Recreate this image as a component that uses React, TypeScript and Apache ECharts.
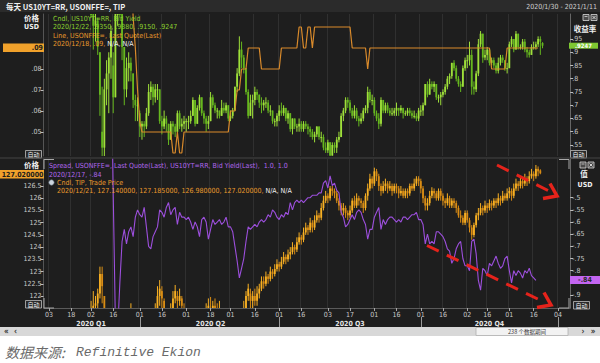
import React, { useEffect, useRef } from 'react';
import * as echarts from 'echarts';

// ---------- categories (trading days) ----------
const rangeStart = '2020-01-30';
const rangeEnd = '2021-01-11';
const marketHolidays = ['2020-02-17', '2020-04-10', '2020-05-25', '2020-07-03', '2020-09-07', '2020-10-12', '2020-11-11', '2020-11-26', '2020-12-25', '2021-01-01'];

function buildTradingDays(): string[] {
  const out: string[] = [];
  const [sy, sm, sd] = rangeStart.split('-').map(Number);
  const [ey, em, ed] = rangeEnd.split('-').map(Number);
  let t = Date.UTC(sy, sm - 1, sd);
  const end = Date.UTC(ey, em - 1, ed);
  while (t <= end) {
    const d = new Date(t);
    const wd = d.getUTCDay();
    const s = d.toISOString().slice(0, 10);
    if (wd !== 0 && wd !== 6 && !marketHolidays.includes(s)) out.push(s);
    t += 86400000;
  }
  return out;
}
const dates = buildTradingDays();

const tickDates = ['2020-02-03', '2020-02-18', '2020-03-02', '2020-03-16', '2020-04-01', '2020-04-16', '2020-05-01', '2020-05-18', '2020-06-01', '2020-06-16', '2020-07-01', '2020-07-16', '2020-08-03', '2020-08-17', '2020-09-01', '2020-09-16', '2020-10-01', '2020-10-16', '2020-11-02', '2020-11-16', '2020-12-01', '2020-12-16', '2021-01-04'];
const quarterStarts = ['2020-04-01', '2020-07-01', '2020-10-01', '2021-01-04'];
const quarterLabelDates = ['2020-03-02', '2020-05-18', '2020-08-17', '2020-11-17'];
const quarterLabels = ['2020 Q1', '2020 Q2', '2020 Q3', '2020 Q4'];

// ---------- tick values ----------
const leftTopTicks = [0.05, 0.06, 0.07, 0.08];
const rightTopTicks = [0.55, 0.6, 0.65, 0.7, 0.75, 0.8, 0.85, 0.9, 0.95];
const leftBottomTicks = [122, 122.5, 123, 123.5, 124, 124.5, 125, 125.5, 126, 126.5];
const rightBottomTicks = [-0.9, -0.85, -0.8, -0.75, -0.7, -0.65, -0.6, -0.55, -0.5];
const rightBottomLabels = [-0.9, -0.8, -0.75, -0.7, -0.65, -0.6, -0.55, -0.5];

// ---------- USONFFE= last quote (from 2020-01-30) ----------
const ffQuote = [
  1.59, 1.60, 1.59, 1.58, 1.58, 1.59, 1.59, 1.58, 1.58, 1.58,
  1.58, 1.58, 1.58, 1.58, 1.58, 1.58, 1.58, 1.58, 1.59, 1.59,
  1.58, 1.58, 1.58, 1.10, 1.10, 1.10, 1.10, 1.10, 1.10, 1.10,
  1.10, 0.25, 0.25, 0.20, 0.15, 0.13, 0.13, 0.13, 0.13, 0.13,
  0.105, 0.09, 0.07, 0.055, 0.05, 0.05, 0.05, 0.05, 0.05, 0.05,
  0.05, 0.05, 0.05, 0.05, 0.05, 0.05, 0.05, 0.05, 0.04, 0.04,
  0.05, 0.04, 0.04, 0.05, 0.05, 0.05, 0.05, 0.05, 0.05, 0.05,
  0.05, 0.05, 0.05, 0.05, 0.05, 0.05, 0.05, 0.05, 0.05, 0.05,
  0.05, 0.05, 0.05, 0.05, 0.06, 0.06, 0.06, 0.07, 0.07, 0.08,
  0.08, 0.08, 0.09, 0.09, 0.09, 0.09, 0.09, 0.09, 0.08, 0.08,
  0.08, 0.08, 0.08, 0.08, 0.08, 0.08, 0.08, 0.09, 0.09, 0.09,
  0.09, 0.09, 0.09, 0.09, 0.09, 0.10, 0.10, 0.09, 0.09, 0.10,
  0.10, 0.09, 0.10, 0.10, 0.10, 0.10, 0.10, 0.10, 0.10, 0.10,
  0.10, 0.10, 0.10, 0.10, 0.10, 0.10, 0.10, 0.10, 0.10, 0.09,
  0.09, 0.09, 0.09, 0.09, 0.09, 0.09, 0.08, 0.09, 0.09, 0.09,
  0.09, 0.09, 0.09, 0.09, 0.09, 0.09, 0.09, 0.09, 0.09, 0.09,
  0.09, 0.09, 0.09, 0.09, 0.09, 0.09, 0.09, 0.09, 0.09, 0.09,
  0.09, 0.09, 0.09, 0.09, 0.09, 0.09, 0.09, 0.09, 0.09, 0.09,
  0.09, 0.09, 0.09, 0.09, 0.09, 0.09, 0.09, 0.09, 0.09, 0.09,
  0.09, 0.09, 0.09, 0.09, 0.09, 0.09, 0.09, 0.09, 0.09, 0.09,
  0.09, 0.09, 0.08, 0.08, 0.08, 0.08, 0.08, 0.08, 0.08, 0.09,
  0.09, 0.09, 0.09, 0.09, 0.09, 0.09, 0.09, 0.09, 0.09, 0.09,
  0.09, 0.09, 0.09, 0.09,
];

// ---------- US10YT=RR bid yield [open, close, low, high] ----------
const yieldOHLC = [
  [1.59, 1.58, 1.53, 1.61], [1.58, 1.51, 1.50, 1.59], [1.51, 1.52, 1.50, 1.55], [1.53, 1.60, 1.53, 1.61], [1.60, 1.65, 1.60, 1.67],
  [1.65, 1.64, 1.62, 1.67], [1.64, 1.58, 1.57, 1.65], [1.58, 1.56, 1.54, 1.59], [1.56, 1.59, 1.56, 1.62], [1.59, 1.62, 1.58, 1.64],
  [1.62, 1.61, 1.59, 1.63], [1.61, 1.59, 1.58, 1.62], [1.58, 1.56, 1.54, 1.59], [1.56, 1.56, 1.55, 1.58], [1.56, 1.52, 1.50, 1.57],
  [1.52, 1.47, 1.46, 1.53], [1.42, 1.38, 1.35, 1.43], [1.38, 1.33, 1.31, 1.39], [1.33, 1.33, 1.30, 1.35], [1.33, 1.30, 1.25, 1.34],
  [1.26, 1.15, 1.12, 1.28], [1.13, 1.09, 1.03, 1.17], [1.09, 1.00, 0.91, 1.11], [1.00, 1.02, 0.94, 1.05], [1.02, 0.92, 0.89, 1.03],
  [0.90, 0.74, 0.66, 0.90], [0.60, 0.54, 0.31, 0.77], [0.54, 0.76, 0.50, 0.80], [0.76, 0.82, 0.70, 0.87], [0.82, 0.88, 0.67, 0.90],
  [0.88, 0.98, 0.80, 1.00], [0.85, 0.73, 0.67, 0.90], [0.73, 1.08, 0.73, 1.10], [1.08, 1.18, 1.00, 1.27], [1.18, 1.12, 1.03, 1.26],
  [1.12, 0.92, 0.87, 1.16], [0.92, 0.76, 0.70, 0.92], [0.76, 0.84, 0.73, 0.88], [0.84, 0.86, 0.79, 0.90], [0.86, 0.83, 0.79, 0.88],
  [0.82, 0.72, 0.69, 0.82], [0.72, 0.70, 0.64, 0.74], [0.70, 0.70, 0.64, 0.73], [0.67, 0.62, 0.58, 0.68], [0.62, 0.63, 0.57, 0.64],
  [0.63, 0.62, 0.58, 0.64], [0.62, 0.67, 0.61, 0.69], [0.67, 0.75, 0.66, 0.78], [0.75, 0.77, 0.72, 0.79], [0.77, 0.73, 0.70, 0.78],
  [0.73, 0.76, 0.71, 0.78], [0.76, 0.76, 0.72, 0.78], [0.76, 0.64, 0.63, 0.76], [0.64, 0.62, 0.59, 0.66], [0.62, 0.65, 0.61, 0.68],
  [0.65, 0.63, 0.60, 0.66], [0.63, 0.57, 0.55, 0.63], [0.57, 0.63, 0.57, 0.64], [0.63, 0.62, 0.59, 0.64], [0.62, 0.60, 0.58, 0.63],
  [0.60, 0.67, 0.60, 0.68], [0.67, 0.62, 0.61, 0.68], [0.62, 0.63, 0.60, 0.65], [0.63, 0.64, 0.61, 0.66], [0.64, 0.64, 0.60, 0.65],
  [0.64, 0.64, 0.61, 0.66], [0.64, 0.66, 0.63, 0.68], [0.66, 0.72, 0.66, 0.73], [0.72, 0.63, 0.62, 0.72], [0.63, 0.69, 0.63, 0.70],
  [0.69, 0.73, 0.68, 0.74], [0.73, 0.67, 0.66, 0.73], [0.67, 0.65, 0.63, 0.68], [0.65, 0.63, 0.60, 0.66], [0.63, 0.64, 0.61, 0.66],
  [0.64, 0.73, 0.64, 0.75], [0.73, 0.70, 0.69, 0.74], [0.70, 0.68, 0.67, 0.71], [0.68, 0.68, 0.65, 0.69], [0.68, 0.66, 0.65, 0.68],
  [0.66, 0.69, 0.66, 0.72], [0.69, 0.68, 0.67, 0.71], [0.68, 0.70, 0.67, 0.71], [0.70, 0.65, 0.64, 0.70], [0.65, 0.66, 0.64, 0.68],
  [0.66, 0.68, 0.65, 0.69], [0.68, 0.77, 0.68, 0.77], [0.77, 0.82, 0.75, 0.84], [0.82, 0.91, 0.81, 0.96], [0.91, 0.88, 0.84, 0.94],
  [0.88, 0.84, 0.82, 0.89], [0.84, 0.75, 0.74, 0.84], [0.75, 0.66, 0.65, 0.76], [0.66, 0.71, 0.66, 0.74], [0.71, 0.72, 0.65, 0.74],
  [0.72, 0.75, 0.70, 0.77], [0.75, 0.74, 0.72, 0.76], [0.74, 0.71, 0.69, 0.74], [0.71, 0.70, 0.67, 0.73], [0.70, 0.71, 0.68, 0.72],
  [0.71, 0.71, 0.69, 0.73], [0.71, 0.68, 0.67, 0.72], [0.68, 0.68, 0.66, 0.70], [0.68, 0.64, 0.63, 0.68], [0.64, 0.64, 0.62, 0.65],
  [0.64, 0.66, 0.62, 0.67], [0.66, 0.68, 0.64, 0.70], [0.68, 0.67, 0.66, 0.71], [0.67, 0.69, 0.66, 0.70], [0.69, 0.65, 0.64, 0.69],
  [0.65, 0.67, 0.63, 0.68], [0.67, 0.61, 0.60, 0.67], [0.61, 0.65, 0.59, 0.65], [0.65, 0.62, 0.61, 0.65], [0.62, 0.62, 0.60, 0.63],
  [0.62, 0.63, 0.60, 0.65], [0.63, 0.61, 0.60, 0.64], [0.61, 0.63, 0.60, 0.64], [0.63, 0.62, 0.61, 0.64], [0.62, 0.61, 0.59, 0.63],
  [0.61, 0.60, 0.58, 0.62], [0.60, 0.58, 0.57, 0.61], [0.58, 0.59, 0.56, 0.60], [0.59, 0.62, 0.58, 0.62], [0.62, 0.58, 0.57, 0.62],
  [0.58, 0.58, 0.56, 0.60], [0.58, 0.54, 0.53, 0.59], [0.54, 0.53, 0.52, 0.56], [0.53, 0.56, 0.52, 0.57], [0.56, 0.51, 0.50, 0.56],
  [0.51, 0.55, 0.51, 0.56], [0.55, 0.54, 0.52, 0.56], [0.54, 0.57, 0.52, 0.58], [0.57, 0.58, 0.56, 0.60], [0.58, 0.66, 0.58, 0.67],
  [0.66, 0.68, 0.64, 0.69], [0.68, 0.72, 0.67, 0.73], [0.72, 0.71, 0.69, 0.73], [0.71, 0.68, 0.67, 0.72], [0.68, 0.66, 0.65, 0.69],
  [0.66, 0.68, 0.65, 0.70], [0.68, 0.65, 0.64, 0.69], [0.65, 0.64, 0.62, 0.66], [0.64, 0.65, 0.63, 0.67], [0.65, 0.68, 0.64, 0.69],
  [0.68, 0.69, 0.67, 0.70], [0.69, 0.75, 0.67, 0.77], [0.75, 0.72, 0.71, 0.76], [0.72, 0.72, 0.70, 0.74], [0.72, 0.67, 0.66, 0.73],
  [0.67, 0.65, 0.64, 0.68], [0.65, 0.63, 0.61, 0.67], [0.63, 0.72, 0.62, 0.73], [0.72, 0.68, 0.67, 0.72], [0.68, 0.70, 0.67, 0.71],
  [0.70, 0.68, 0.67, 0.71], [0.68, 0.67, 0.66, 0.69], [0.67, 0.67, 0.66, 0.69], [0.67, 0.68, 0.66, 0.69], [0.68, 0.69, 0.66, 0.71],
  [0.69, 0.68, 0.66, 0.69], [0.68, 0.69, 0.67, 0.70], [0.69, 0.67, 0.65, 0.69], [0.67, 0.67, 0.66, 0.68], [0.67, 0.68, 0.66, 0.69],
  [0.68, 0.67, 0.66, 0.69], [0.67, 0.66, 0.65, 0.68], [0.66, 0.66, 0.65, 0.68], [0.66, 0.65, 0.64, 0.67], [0.65, 0.68, 0.64, 0.69],
  [0.68, 0.68, 0.66, 0.70], [0.68, 0.70, 0.66, 0.71], [0.70, 0.78, 0.70, 0.78], [0.78, 0.74, 0.73, 0.79], [0.74, 0.78, 0.74, 0.80],
  [0.78, 0.77, 0.76, 0.79], [0.77, 0.78, 0.75, 0.79], [0.78, 0.73, 0.72, 0.78], [0.73, 0.73, 0.71, 0.74], [0.73, 0.74, 0.70, 0.75],
  [0.74, 0.75, 0.73, 0.76], [0.75, 0.77, 0.74, 0.78], [0.77, 0.80, 0.76, 0.81], [0.80, 0.81, 0.78, 0.82], [0.81, 0.86, 0.80, 0.86],
  [0.86, 0.84, 0.83, 0.87], [0.84, 0.80, 0.79, 0.85], [0.80, 0.78, 0.77, 0.81], [0.78, 0.77, 0.75, 0.79], [0.77, 0.84, 0.77, 0.85],
  [0.84, 0.87, 0.83, 0.88], [0.87, 0.87, 0.84, 0.89], [0.87, 0.89, 0.85, 0.94], [0.89, 0.77, 0.74, 0.91], [0.77, 0.76, 0.74, 0.79],
  [0.76, 0.82, 0.75, 0.83], [0.82, 0.93, 0.81, 0.95], [0.93, 0.97, 0.92, 0.98], [0.97, 0.88, 0.86, 0.97], [0.88, 0.89, 0.87, 0.91],
  [0.89, 0.91, 0.87, 0.92], [0.91, 0.86, 0.85, 0.91], [0.86, 0.87, 0.85, 0.88], [0.87, 0.85, 0.84, 0.88], [0.85, 0.83, 0.82, 0.86],
  [0.83, 0.86, 0.82, 0.88], [0.86, 0.88, 0.85, 0.89], [0.88, 0.87, 0.86, 0.89], [0.87, 0.84, 0.83, 0.87], [0.84, 0.84, 0.82, 0.86],
  [0.84, 0.93, 0.84, 0.94], [0.93, 0.95, 0.92, 0.96], [0.95, 0.91, 0.90, 0.95], [0.91, 0.97, 0.91, 0.98], [0.97, 0.92, 0.91, 0.97],
  [0.92, 0.92, 0.91, 0.93], [0.92, 0.94, 0.91, 0.95], [0.94, 0.91, 0.90, 0.95], [0.91, 0.90, 0.88, 0.92], [0.90, 0.89, 0.88, 0.91],
  [0.89, 0.92, 0.89, 0.93], [0.92, 0.92, 0.91, 0.94], [0.92, 0.93, 0.91, 0.94], [0.93, 0.95, 0.92, 0.96], [0.95, 0.94, 0.89, 0.96],
  [0.935, 0.9247, 0.915, 0.938],
];

// ---------- TIP trade price [open, close, low, high] ----------
const tipOHLC = [
  [117.4, 117.6, 117.2, 117.8], [117.6, 117.9, 117.4, 118.0], [117.9, 117.8, 117.6, 118.0], [117.8, 117.5, 117.4, 117.9], [117.5, 117.3, 117.1, 117.6],
  [117.3, 117.4, 117.2, 117.6], [117.4, 117.6, 117.3, 117.8], [117.6, 117.8, 117.5, 117.9], [117.8, 117.7, 117.5, 117.9], [117.7, 117.6, 117.4, 117.8],
  [117.6, 117.7, 117.5, 117.9], [117.7, 117.9, 117.6, 118.0], [117.9, 118.1, 117.8, 118.3], [118.1, 118.0, 117.9, 118.2], [118.0, 118.2, 117.9, 118.4],
  [118.2, 118.5, 118.1, 118.6], [118.6, 118.9, 118.4, 119.1], [118.9, 119.1, 118.7, 119.3], [119.1, 119.2, 118.9, 119.4], [119.2, 119.4, 119.0, 119.6],
  [119.5, 119.3, 118.8, 119.8], [119.6, 121.2, 119.5, 121.8], [121.2, 121.6, 120.8, 122.2], [121.6, 121.7, 121.2, 122.0], [121.7, 122.1, 121.4, 122.3],
  [122.1, 122.9, 121.9, 123.2], [122.9, 122.4, 121.7, 123.2], [122.0, 121.2, 120.7, 121.8], [121.0, 120.3, 119.8, 121.2], [119.5, 117.5, 117.0, 120.0],
  [117.8, 116.6, 115.8, 118.3], [116.0, 114.7, 113.5, 116.8], [114.0, 111.8, 111.2, 114.5], [111.0, 109.5, 108.5, 112.0], [109.5, 110.8, 106.8, 111.2],
  [111.5, 113.0, 110.5, 113.8], [113.5, 115.2, 112.8, 115.8], [116.0, 117.5, 115.6, 118.2], [117.8, 119.5, 117.4, 120.3], [119.8, 120.9, 119.5, 121.7],
  [120.6, 120.4, 119.9, 121.0], [120.4, 120.8, 119.8, 121.2], [120.8, 120.3, 119.9, 121.1], [120.3, 120.5, 119.8, 120.9], [120.5, 120.6, 120.0, 121.0],
  [120.6, 120.2, 119.9, 120.8], [120.2, 120.0, 119.6, 120.5], [120.0, 119.8, 119.5, 120.4], [119.8, 120.2, 119.6, 120.6], [120.2, 121.0, 120.1, 121.3],
  [121.0, 121.3, 120.7, 121.7], [121.3, 122.0, 121.2, 122.4], [122.0, 122.3, 121.6, 122.65], [122.2, 121.9, 121.5, 122.4], [121.8, 121.3, 121.0, 121.9],
  [121.2, 121.0, 120.7, 121.4], [121.0, 121.2, 120.6, 121.5], [121.2, 121.4, 121.0, 121.7], [121.5, 121.9, 121.3, 122.2], [121.9, 122.2, 121.7, 122.45],
  [122.0, 121.8, 121.5, 122.2], [121.8, 122.0, 121.6, 122.3], [121.9, 121.6, 121.3, 122.0], [121.5, 121.2, 120.9, 121.7], [121.2, 120.9, 120.6, 121.3],
  [120.9, 121.0, 120.6, 121.3], [121.0, 121.1, 120.8, 121.4], [121.1, 120.7, 120.5, 121.2], [120.7, 121.0, 120.5, 121.3], [121.0, 120.8, 120.5, 121.2],
  [120.8, 120.6, 120.3, 121.0], [120.6, 120.9, 120.5, 121.2], [120.9, 121.1, 120.7, 121.4], [121.1, 121.4, 120.9, 121.7], [121.4, 121.6, 121.1, 121.9],
  [121.5, 121.3, 121.0, 121.96], [121.3, 121.6, 121.1, 121.8], [121.6, 121.5, 121.2, 121.9], [121.5, 121.3, 121.0, 121.7], [121.3, 121.5, 121.1, 121.8],
  [121.4, 121.1, 120.9, 121.5], [121.1, 120.9, 120.6, 121.3], [120.9, 121.1, 120.7, 121.4], [121.1, 121.3, 120.9, 121.5], [121.3, 121.2, 120.9, 121.4],
  [121.2, 121.0, 120.7, 121.3], [121.0, 120.7, 120.4, 121.1], [120.7, 120.5, 120.2, 120.8], [120.5, 120.4, 120.0, 120.7], [120.6, 121.0, 120.4, 121.2],
  [121.0, 121.5, 120.9, 121.8], [121.5, 122.0, 121.4, 122.2], [122.0, 122.3, 121.8, 122.5], [122.1, 121.8, 121.5, 122.3], [121.8, 122.0, 121.4, 122.2],
  [122.0, 121.8, 121.6, 122.3], [121.8, 122.1, 121.6, 122.4], [122.1, 122.3, 121.9, 122.5], [122.3, 122.6, 122.2, 122.8], [122.6, 122.5, 122.3, 122.8],
  [122.5, 122.8, 122.4, 123.0], [122.8, 122.7, 122.5, 122.9], [122.7, 123.0, 122.6, 123.2], [123.0, 122.9, 122.7, 123.1], [122.9, 123.1, 122.8, 123.3],
  [123.1, 123.3, 123.0, 123.5], [123.3, 123.2, 123.0, 123.4], [123.2, 123.4, 123.1, 123.6], [123.4, 123.6, 123.3, 123.8], [123.6, 123.5, 123.3, 123.7],
  [123.5, 123.7, 123.4, 123.9], [123.7, 123.8, 123.5, 124.0], [123.8, 124.0, 123.7, 124.2], [124.0, 123.9, 123.7, 124.1], [123.9, 124.2, 123.8, 124.4],
  [124.2, 124.4, 124.1, 124.6], [124.4, 124.3, 124.1, 124.5], [124.3, 124.6, 124.2, 124.8], [124.6, 124.8, 124.5, 125.0], [124.8, 124.7, 124.5, 124.9],
  [124.7, 125.0, 124.6, 125.2], [125.0, 124.8, 124.6, 125.1], [124.8, 125.1, 124.7, 125.3], [125.1, 125.3, 125.0, 125.5], [125.3, 125.2, 125.0, 125.4],
  [125.2, 125.6, 125.1, 125.8], [125.6, 125.9, 125.5, 126.1], [125.9, 126.1, 125.8, 126.3], [126.1, 126.0, 125.8, 126.2], [126.0, 126.4, 125.9, 126.5],
  [126.4, 126.3, 126.1, 126.5], [126.3, 126.2, 126.0, 126.4], [126.2, 125.9, 125.8, 126.3], [125.9, 125.7, 125.5, 126.0], [125.7, 125.5, 125.3, 125.8],
  [125.5, 125.6, 125.3, 125.8], [125.6, 125.4, 125.2, 125.7], [125.4, 125.3, 125.1, 125.5], [125.3, 125.5, 125.2, 125.7], [125.5, 125.9, 125.4, 126.0],
  [125.9, 125.7, 125.6, 126.1], [125.7, 126.0, 125.6, 126.2], [126.0, 125.9, 125.7, 126.1], [125.9, 125.8, 125.6, 126.0], [125.8, 125.6, 125.4, 125.9],
  [125.6, 126.1, 125.5, 126.2], [126.1, 126.4, 125.9, 126.6], [126.4, 126.8, 126.3, 127.0], [126.8, 126.6, 126.4, 126.9], [126.6, 127.1, 126.5, 127.25],
  [127.1, 126.9, 126.7, 127.2], [126.9, 126.5, 126.3, 127.0], [126.5, 126.3, 126.1, 126.6], [126.3, 126.5, 126.2, 126.7], [126.5, 126.6, 126.3, 126.8],
  [126.6, 126.4, 126.2, 126.7], [126.4, 126.5, 126.3, 126.7], [126.5, 126.3, 126.1, 126.6], [126.3, 126.5, 126.2, 126.6], [126.5, 126.4, 126.2, 126.6],
  [126.4, 126.2, 126.0, 126.5], [126.2, 126.3, 126.1, 126.5], [126.3, 126.1, 126.0, 126.4], [126.1, 126.3, 126.0, 126.4], [126.3, 126.2, 126.0, 126.4],
  [126.2, 126.5, 126.1, 126.6], [126.5, 126.4, 126.3, 126.6], [126.4, 126.6, 126.3, 126.8], [126.6, 126.8, 126.5, 126.9], [126.8, 126.7, 126.5, 126.9],
  [126.7, 126.4, 126.2, 126.8], [126.4, 126.0, 125.8, 126.5], [126.0, 125.7, 125.5, 126.1], [125.7, 125.8, 125.5, 126.0], [125.8, 126.1, 125.7, 126.3],
  [126.1, 126.3, 126.0, 126.45], [126.3, 126.2, 126.0, 126.4], [126.2, 126.0, 125.9, 126.3], [126.0, 126.3, 125.9, 126.4], [126.3, 126.1, 125.9, 126.4],
  [126.1, 125.9, 125.7, 126.2], [125.9, 125.8, 125.6, 126.0], [125.8, 126.0, 125.7, 126.2], [126.0, 125.7, 125.6, 126.1], [125.7, 125.9, 125.6, 126.0],
  [125.9, 125.8, 125.6, 126.0], [125.8, 125.6, 125.4, 125.9], [125.6, 125.3, 125.2, 125.7], [125.3, 125.2, 125.0, 125.5], [125.2, 125.0, 124.9, 125.3],
  [125.0, 125.4, 124.9, 125.5], [125.4, 125.1, 125.0, 125.5], [125.1, 124.8, 124.6, 125.2], [124.8, 124.5, 124.3, 124.9], [124.5, 124.9, 124.4, 125.0],
  [124.9, 125.3, 124.8, 125.4], [125.3, 125.4, 125.1, 125.6], [125.4, 125.6, 125.3, 125.8], [125.6, 125.5, 125.3, 125.7], [125.5, 125.7, 125.4, 125.9],
  [125.7, 125.6, 125.4, 125.8], [125.6, 125.8, 125.5, 125.95], [125.8, 125.7, 125.5, 125.9], [125.7, 125.9, 125.6, 126.0], [125.9, 125.8, 125.6, 126.0],
  [125.8, 126.0, 125.7, 126.2], [126.0, 125.9, 125.7, 126.1], [125.9, 126.1, 125.8, 126.3], [126.1, 126.0, 125.9, 126.2], [126.0, 126.2, 125.9, 126.4],
  [126.2, 126.3, 126.0, 126.45], [126.3, 126.1, 125.9, 126.4], [126.1, 126.4, 126.0, 126.6], [126.4, 126.6, 126.3, 126.8], [126.6, 126.5, 126.3, 126.7],
  [126.5, 126.7, 126.4, 126.9], [126.7, 126.6, 126.4, 126.8], [126.6, 126.8, 126.5, 127.0], [126.8, 126.7, 126.5, 126.9], [126.7, 126.9, 126.6, 127.1],
  [126.9, 127.0, 126.8, 127.2], [127.0, 126.9, 126.7, 127.1], [126.9, 127.2, 126.8, 127.36], [127.2, 127.1, 126.9, 127.3], [127.14, 127.02, 126.98, 127.185],
];

// ---------- Spread: USONFFE= minus US10YT=RR ----------
const spread = [
  0.01, 0.09, 0.07, -0.02, -0.07, -0.05, 0.01, 0.02, -0.01, -0.04,
  -0.03, -0.01, 0.02, 0.02, 0.06, 0.11, 0.20, 0.25, 0.26, 0.29,
  0.43, 0.49, 0.58, 0.08, 0.18, 0.36, 0.56, 0.34, 0.28, 0.22,
  0.12, -0.48, -1.02, -1.05, -0.85, -0.68, -0.63, -0.69, -0.64, -0.62,
  -0.66, -0.58, -0.55, -0.57, -0.58, -0.54, -0.62, -0.70, -0.71, -0.66,
  -0.64, -0.62, -0.55, -0.56, -0.58, -0.54, -0.52, -0.57, -0.55, -0.54,
  -0.61, -0.56, -0.58, -0.58, -0.59, -0.58, -0.60, -0.63, -0.60, -0.62,
  -0.66, -0.59, -0.58, -0.60, -0.67, -0.63, -0.59, -0.61, -0.60, -0.59,
  -0.61, -0.60, -0.58, -0.62, -0.62, -0.64, -0.70, -0.76, -0.83, -0.79,
  -0.75, -0.68, -0.62, -0.63, -0.62, -0.61, -0.62, -0.60, -0.59, -0.60,
  -0.59, -0.57, -0.58, -0.55, -0.56, -0.58, -0.59, -0.57, -0.58, -0.56,
  -0.57, -0.52, -0.55, -0.52, -0.51, -0.52, -0.51, -0.52, -0.51, -0.50,
  -0.50, -0.49, -0.49, -0.49, -0.48, -0.48, -0.44, -0.43, -0.46, -0.41,
  -0.45, -0.44, -0.47, -0.48, -0.56, -0.58, -0.62, -0.61, -0.59, -0.57,
  -0.59, -0.56, -0.55, -0.56, -0.59, -0.61, -0.67, -0.63, -0.63, -0.58,
  -0.56, -0.54, -0.63, -0.59, -0.61, -0.59, -0.58, -0.58, -0.59, -0.60,
  -0.59, -0.60, -0.58, -0.58, -0.59, -0.58, -0.57, -0.57, -0.56, -0.59,
  -0.59, -0.61, -0.69, -0.65, -0.69, -0.68, -0.69, -0.64, -0.64, -0.65,
  -0.66, -0.68, -0.71, -0.72, -0.77, -0.75, -0.71, -0.69, -0.68, -0.75,
  -0.78, -0.78, -0.80, -0.68, -0.67, -0.73, -0.84, -0.88, -0.79, -0.80,
  -0.82, -0.77, -0.78, -0.76, -0.74, -0.77, -0.79, -0.78, -0.75, -0.74,
  -0.80, -0.85, -0.80, -0.82, -0.80, -0.81, -0.83, -0.80, -0.81, -0.79,
  -0.82, -0.83, -0.84,
];

// ---------- helpers ----------
const NARROW = "'Liberation Sans Narrow','DejaVu Sans Condensed','Liberation Sans',sans-serif";
const CJK = "'Noto Sans CJK SC','Liberation Sans',sans-serif";
const MONO = "'Liberation Mono','DejaVu Sans Mono',monospace";
const GREEN = '#8bd12f';
const ORANGE = '#e99a2c';
const PURPLE = '#b066ee';
const RED = '#e5231b';

const fmt = (v: number) => String(+(+v).toFixed(4)).replace(/^(-?)0\./, '$1.');

function T(x: number, y: number, text: string, fill: string, font: string, align = 'left', rich?: any) {
  const style: any = { text, fill, font, textAlign: align, textVerticalAlign: 'middle' };
  if (rich) style.rich = rich;
  return { type: 'text', x, y, z: 100, silent: true, style };
}
function R(x: number, y: number, w: number, h: number, fill: string, stroke?: string, lw = 1) {
  return { type: 'rect', z: 99, silent: true, shape: { x, y, width: w, height: h }, style: { fill, stroke: stroke || null, lineWidth: lw } };
}
function L(x1: number, y1: number, x2: number, y2: number, stroke: string, lw = 1, dash?: number[]) {
  return { type: 'line', z: 100, silent: true, shape: { x1, y1, x2, y2 }, style: { stroke, lineWidth: lw, lineDash: dash || null } };
}
function PL(points: number[][], stroke: string, lw: number) {
  return { type: 'polyline', z: 100, silent: true, shape: { points }, style: { stroke, lineWidth: lw, fill: null, lineJoin: 'miter' } };
}
function autoBox(x: number, y: number) {
  return [R(x, y, 16, 7.5, '#2a2a2a', '#bdbdbd', 0.8), T(x + 8, y + 4, '自动', '#f0f0f0', `6px ${CJK}`, 'center')];
}
function winIcons(x: number, y: number) {
  return [
    R(x, y, 6, 6, '#4a4a4a', '#d8d8d8', 0.8),
    L(x + 1.5, y + 2, x + 4.5, y + 2, '#d8d8d8', 0.8),
    R(x + 8, y, 6, 6, '#4a4a4a', '#d8d8d8', 0.8),
    L(x + 9.5, y + 1.5, x + 12.5, y + 4.5, '#e0e0e0', 0.9),
    L(x + 12.5, y + 1.5, x + 9.5, y + 4.5, '#e0e0e0', 0.9),
  ];
}

// candle renderer for a custom series: [index, open, close, low, high]
function candleRenderer(upColor: string, downColor: string, bodyW: number) {
  return (params: any, api: any) => {
    const idx = api.value(0);
    const o = api.value(1), c = api.value(2), l = api.value(3), h = api.value(4);
    const pO = api.coord([idx, o]);
    const pC = api.coord([idx, c]);
    const pL = api.coord([idx, l]);
    const pH = api.coord([idx, h]);
    const cs = params.coordSys;
    const top = cs.y, bot = cs.y + cs.height;
    if (pH[1] >= bot || pL[1] <= top) return { type: 'group', children: [] };
    const cl = (y: number) => Math.max(top, Math.min(bot, y));
    const x = pO[0];
    const color = c >= o ? upColor : downColor;
    const yH = cl(pH[1]), yL = cl(pL[1]);
    let bTop = cl(Math.min(pO[1], pC[1]));
    let bBot = cl(Math.max(pO[1], pC[1]));
    if (bBot - bTop < 1) { bBot = Math.min(bot, bTop + 1); }
    return {
      type: 'group',
      children: [
        { type: 'line', shape: { x1: x, y1: yH, x2: x, y2: yL }, style: { stroke: color, lineWidth: 1 } },
        { type: 'rect', shape: { x: x - bodyW / 2, y: bTop, width: bodyW, height: bBot - bTop }, style: { fill: color, stroke: null } },
      ],
    };
  };
}

export default function App() {
  const ref = useRef<HTMLDivElement>(null);
  useEffect(() => {
    if (!ref.current) return;
    const chart = echarts.init(ref.current, undefined, { renderer: 'svg' });
    const tickSet = new Set(tickDates);
    const isTick = (_i: number, v: string) => tickSet.has(v);
    const isQStart = (_i: number, v: string) => quarterStarts.includes(v);
    const isQLabel = (_i: number, v: string) => quarterLabelDates.includes(v);
    const axisLabelStyle = { color: '#c9c9c9', fontSize: 7, fontFamily: NARROW };
    const legendFont = `7px ${NARROW}`;
    const richPart = (color: string) => ({ fill: color, color, fontSize: 7, fontFamily: NARROW, font: legendFont });

    const yieldData = yieldOHLC.map((d, i) => [i, d[0], d[1], d[2], d[3]]);
    const tipData = tipOHLC.map((d, i) => [i, d[0], d[1], d[2], d[3]]);

    const graphics: any[] = [
      R(0, 0, 600, 12, '#2b2b2b'),
      T(6, 6.5, '每天 US10YT=RR, USONFFE=, TIP', '#f2f2f2', `bold 7.5px ${CJK}`),
      T(597, 7, '2020/1/30 - 2021/1/11', '#cfcfcf', `7px ${NARROW}`, 'right'),
      ...winIcons(583, 14.5),
      T(585, 28, '收益率', '#f0f0f0', `bold 7.5px ${CJK}`, 'center'),
      T(39, 17.5, '价格', '#f0f0f0', `bold 7.5px ${CJK}`, 'right'),
      T(39, 27, 'USD', '#f0f0f0', `bold 7px ${NARROW}`, 'right'),
      R(3, 43.5, 41, 8.5, '#f0a12b'),
      T(43, 48, '.09', '#1c1c1c', `bold 7px ${NARROW}`, 'right'),
      R(569, 42.7, 29, 6, '#7ec832'),
      T(583.5, 45.8, '.9247', '#ffffff', `bold 6px ${NARROW}`, 'center'),
      ...autoBox(25.5, 150.5),
      ...autoBox(570.5, 150.5),
      L(0, 158, 600, 158, '#454545', 1),
      // top legend
      T(53, 18.5, 'Cndl, US10YT=RR, Bid Yield', GREEN, legendFont),
      T(53, 27, '2020/12/22, .9350, .9380, .9150, .9247', GREEN, legendFont),
      T(53, 35.5, 'Line, USONFFE=, Last Quote(Last)', ORANGE, legendFont),
      T(53, 44, '{o|2020/12/18, .09, }{w|N/A, N/A}', ORANGE, legendFont, 'left', { o: richPart(ORANGE), w: richPart('#f2f2f2') }),
      // lower panel labels
      T(39, 164.5, '价格', '#f0f0f0', `bold 7.5px ${CJK}`, 'right'),
      R(0, 170, 44, 8.5, '#f0a12b'),
      T(43.5, 174.5, '127.020000', '#1c1c1c', `bold 7px ${NARROW}`, 'right'),
      ...winIcons(580, 162),
      T(584, 173.5, '值', '#f0f0f0', `bold 7.5px ${CJK}`, 'center'),
      T(585, 184.5, 'USD', '#f0f0f0', `bold 7px ${NARROW}`, 'center'),
      R(570, 276, 30, 8, '#c466f2'),
      T(585, 280.2, '-.84', '#2a2a2a', `bold 7px ${NARROW}`, 'center'),
      ...autoBox(25.5, 300.5),
      ...autoBox(573.5, 301.5),
      // lower legend
      T(49, 166, 'Spread, USONFFE=, Last Quote(Last), US10YT=RR, Bid Yield(Last),  1.0, 1.0', PURPLE, legendFont),
      T(49, 174.5, '2020/12/17, -.84', PURPLE, legendFont),
      { type: 'circle', z: 100, silent: true, shape: { cx: 51.5, cy: 182.5, r: 2.6 }, style: { fill: '#cdd6de', stroke: '#7a8a99', lineWidth: 0.6 } },
      T(57, 182.5, 'Cndl, TIP, Trade Price', ORANGE, legendFont),
      T(57, 191, '{o|2020/12/21, 127.140000, 127.185000, 126.980000, 127.020000, }{w|N/A, N/A}', ORANGE, legendFont, 'left', { o: richPart(ORANGE), w: richPart('#f2f2f2') }),
      // corner brackets of the active (lower) panel
      PL([[44, 169], [44, 159.5], [54, 159.5]], '#a8a8a8', 1),
      PL([[559, 159.5], [569, 159.5], [569, 169]], '#a8a8a8', 1),
      PL([[44, 298], [44, 308], [54, 308]], '#a8a8a8', 1),
      PL([[559, 308], [569, 308], [569, 298]], '#a8a8a8', 1),
      // red annotation arrows
      L(497, 165, 551, 192, RED, 3, [13, 9]),
      PL([[543, 198.5], [557, 196], [550, 183.5]], RED, 3.5),
      L(427, 245.5, 545, 302.5, RED, 3, [13, 9]),
      PL([[537, 307.5], [551, 305], [544, 292.5]], RED, 3.5),
      // scroll bar
      R(0, 327, 600, 9, '#d8d8d8'),
      T(4, 331.5, '«', '#333333', `bold 8px ${NARROW}`),
      T(14, 331.5, '‹', '#333333', `bold 8px ${NARROW}`),
      R(476, 327.5, 92, 8, '#f2f2f2', '#b0b0b0', 0.8),
      T(527, 331.5, '238 个数据期间', '#333333', `5.5px ${CJK}`, 'center'),
      T(583, 331.5, '›', '#333333', `bold 8px ${NARROW}`, 'center'),
      T(593, 331.5, '»', '#333333', `bold 8px ${NARROW}`, 'center'),
      // white footer + caption
      R(0, 336, 600, 27, '#ffffff'),
      T(5, 352, '数据来源:', '#6a6a6a', `italic 14px ${CJK}`, 'left'),
      T(76, 352, 'Refinitive Ekion', '#6a6a6a', `italic 13px ${MONO}`, 'left'),
    ];

    const option: any = {
      animation: false,
      backgroundColor: '#1e1e1e',
      grid: [
        { left: 43.5, right: 29.8, top: 14, height: 142, containLabel: false, outerBoundsMode: 'none' },
        { left: 43.5, right: 29.8, top: 159, height: 149, containLabel: false, outerBoundsMode: 'none' },
      ],
      xAxis: [
        {
          gridIndex: 0, type: 'category', data: dates, boundaryGap: true,
          axisLine: { show: false }, axisTick: { show: false }, axisLabel: { show: false },
          splitLine: { show: true, interval: isTick, lineStyle: { color: '#303030', width: 1 } },
        },
        {
          gridIndex: 1, type: 'category', data: dates, boundaryGap: true,
          axisLine: { show: true, lineStyle: { color: '#5a5a5a' } },
          axisTick: { show: true, interval: isTick, alignWithLabel: true, length: 3, lineStyle: { color: '#aaaaaa' } },
          axisLabel: { interval: isTick, formatter: (d: string) => d.slice(8, 10), margin: 3, ...axisLabelStyle },
          splitLine: { show: true, interval: isTick, lineStyle: { color: '#303030', width: 1 } },
        },
        {
          gridIndex: 1, type: 'category', data: dates, boundaryGap: true, position: 'bottom', offset: 9,
          axisLine: { show: false },
          axisTick: { show: true, interval: isQStart, alignWithLabel: true, length: 10, lineStyle: { color: '#9a9a9a' } },
          axisLabel: {
            interval: isQLabel, margin: 3, color: '#e6e6e6', fontSize: 7, fontWeight: 'bold', fontFamily: NARROW,
            formatter: (d: string) => quarterLabels[quarterLabelDates.indexOf(d)] || '',
          },
          splitLine: { show: false },
        },
      ],
      yAxis: [
        {
          gridIndex: 0, type: 'value', position: 'left', min: 0.038571, max: 0.10619, scale: true,
          axisLine: { show: true, lineStyle: { color: '#555555' } },
          axisTick: { show: true, customValues: leftTopTicks, length: 3, lineStyle: { color: '#bdbdbd' } },
          axisLabel: { customValues: leftTopTicks, formatter: fmt, margin: 2, ...axisLabelStyle },
          splitLine: { show: false },
        },
        {
          gridIndex: 0, type: 'value', position: 'right', min: 0.50849, max: 1.04434, scale: true,
          axisLine: { show: true, lineStyle: { color: '#666666' } },
          axisTick: { show: true, customValues: rightTopTicks, length: 3, lineStyle: { color: '#bdbdbd' } },
          axisLabel: { customValues: rightTopTicks, formatter: fmt, margin: 2, ...axisLabelStyle },
          splitLine: { show: false },
        },
        {
          gridIndex: 1, type: 'value', position: 'left', min: 121.5082, max: 127.6047, scale: true,
          axisLine: { show: true, lineStyle: { color: '#555555' } },
          axisTick: { show: true, customValues: leftBottomTicks, length: 3, lineStyle: { color: '#bdbdbd' } },
          axisLabel: { customValues: leftBottomTicks, formatter: fmt, margin: 2, ...axisLabelStyle },
          splitLine: { show: false },
        },
        {
          gridIndex: 1, type: 'value', position: 'right', min: -0.95335, max: -0.34094, scale: true,
          axisLine: { show: true, lineStyle: { color: '#666666' } },
          axisTick: { show: true, customValues: rightBottomTicks, length: 3, lineStyle: { color: '#bdbdbd' } },
          axisLabel: { customValues: rightBottomLabels, formatter: fmt, margin: 2, ...axisLabelStyle },
          splitLine: { show: false },
        },
      ],
      series: [
        {
          name: 'US10YT=RR', type: 'custom', xAxisIndex: 0, yAxisIndex: 1, data: yieldData,
          encode: { x: 0, y: [1, 2, 3, 4] }, renderItem: candleRenderer('#9fe03a', '#66b81e', 1.8), z: 2,
        },
        {
          name: 'USONFFE=', type: 'line', xAxisIndex: 0, yAxisIndex: 0, data: ffQuote, showSymbol: false, clip: true, z: 3,
          lineStyle: { color: '#d98a2b', width: 1.2 },
        },
        {
          name: 'TIP', type: 'custom', xAxisIndex: 1, yAxisIndex: 2, data: tipData,
          encode: { x: 0, y: [1, 2, 3, 4] }, renderItem: candleRenderer('#f8b023', '#d98c14', 1.8), z: 2,
        },
        {
          name: 'Spread', type: 'line', xAxisIndex: 1, yAxisIndex: 3, data: spread, showSymbol: false, clip: true, z: 3,
          lineStyle: { color: '#9c4fdc', width: 1.1 },
        },
      ],
      graphic: { elements: graphics },
    };
    chart.setOption(option);
    return () => chart.dispose();
  }, []);
  return <div ref={ref} style={{ position: 'fixed', left: 0, top: 0, width: 600, height: 363 }} />;
}
